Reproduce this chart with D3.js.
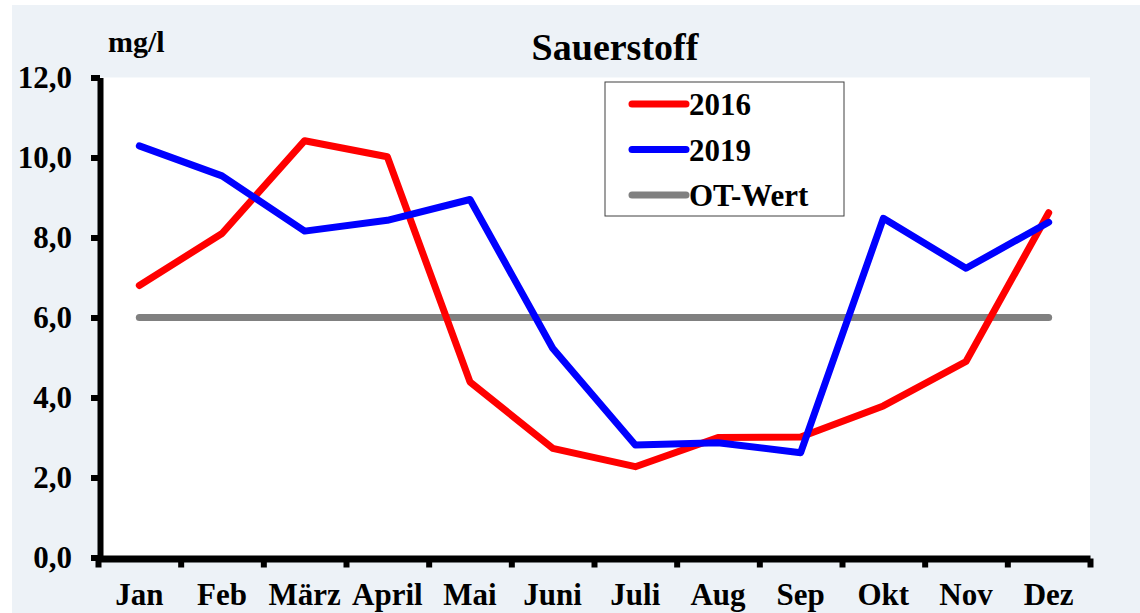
<!DOCTYPE html>
<html>
<head>
<meta charset="utf-8">
<script src="https://cdn.jsdelivr.net/npm/d3@7"></script>
<style>
  body { margin: 0; background: #ffffff; }
  svg text { font-family: "Liberation Serif", "Times New Roman", serif; font-weight: bold; fill: #000; }
</style>
</head>
<body>
<div id="chart"></div>
<script>
// data
var months = ["Jan", "Feb", "März", "April", "Mai", "Juni", "Juli", "Aug", "Sep", "Okt", "Nov", "Dez"];
var values2016 = [6.8, 8.1, 10.42, 10.02, 4.39, 2.73, 2.27, 3.0, 3.01, 3.79, 4.9, 8.62];
var values2019 = [10.29, 9.54, 8.16, 8.43, 8.95, 5.23, 2.81, 2.87, 2.62, 8.48, 7.23, 8.38];
var otWert = [6, 6, 6, 6, 6, 6, 6, 6, 6, 6, 6, 6];
var yTicks = [0, 2, 4, 6, 8, 10, 12];

var series = [
    {name: "2016", values: values2016, color: "#ff0000"},
    {name: "2019", values: values2019, color: "#0000ff"},
    {name: "OT-Wert", values: otWert, color: "#808080"}
];

var width = 1140, height = 613;
var plotLeft = 98, plotRight = 1090, plotTop = 77.5, plotBottom = 557.5;

var svg = d3.select("#chart").append("svg")
    .attr("width", width)
    .attr("height", height);

// background panel + white plot area
svg.append("rect").attr("x", 12).attr("y", 5).attr("width", width - 12).attr("height", height - 5)
    .attr("fill", "#edf2f7");
svg.append("rect").attr("x", plotLeft).attr("y", plotTop).attr("width", plotRight - plotLeft).attr("height", plotBottom - plotTop)
    .attr("fill", "#ffffff");

var x = d3.scaleBand().domain(months).range([plotLeft, plotRight]).padding(0);
var xTick = d3.scaleLinear().domain([0, 12]).range([plotLeft, plotRight]);
var y = d3.scaleLinear().domain([0, 12]).range([plotBottom, plotTop]);

// y axis
var yAxis = svg.append("g")
    .attr("transform", "translate(" + (plotLeft + 2) + ",0)")
    .call(d3.axisLeft(y).tickValues(yTicks).tickSize(9).tickSizeOuter(0)
        .tickFormat(function(d){ return d3.format(".1f")(d).replace(".", ","); }));
yAxis.select(".domain").attr("stroke", "#000").attr("stroke-width", 6);
yAxis.selectAll(".tick line").attr("stroke", "#000").attr("stroke-width", 6);
yAxis.selectAll(".tick text")
    .attr("x", -28)
    .attr("dy", "0.32em")
    .style("font-size", "31px");

// x axis tick marks (between months)
var xAxis = svg.append("g")
    .attr("transform", "translate(0," + (plotBottom + 1) + ")")
    .call(d3.axisBottom(xTick).tickValues(d3.range(13)).tickSize(9).tickSizeOuter(0).tickFormat(""));
xAxis.select(".domain").attr("stroke", "#000").attr("stroke-width", 7);
xAxis.selectAll(".tick line").attr("stroke", "#000").attr("stroke-width", 6);

// month labels
var xLabels = svg.append("g")
    .attr("transform", "translate(0," + plotBottom + ")")
    .call(d3.axisBottom(x).tickSize(0));
xLabels.select(".domain").remove();
xLabels.selectAll(".tick text")
    .attr("y", 47)
    .attr("dy", 0)
    .style("font-size", "31px");

// lines
var line = d3.line()
    .x(function(d, i){ return x(months[i]) + x.bandwidth() / 2; })
    .y(function(d){ return y(d); });

// gray first, then red, blue on top
[series[2], series[0], series[1]].forEach(function(s){
    svg.append("path")
        .datum(s.values)
        .attr("d", line)
        .attr("fill", "none")
        .attr("stroke", s.color)
        .attr("stroke-width", 7)
        .attr("stroke-linejoin", "round")
        .attr("stroke-linecap", "round");
});

// title + unit
svg.append("text").attr("x", 615).attr("y", 60).attr("text-anchor", "middle")
    .style("font-size", "38px").text("Sauerstoff");
svg.append("text").attr("x", 108).attr("y", 52)
    .style("font-size", "30px").text("mg/l");

// legend
var legend = svg.append("g");
legend.append("rect").attr("x", 605).attr("y", 82).attr("width", 239).attr("height", 134)
    .attr("fill", "#ffffff").attr("stroke", "#404040").attr("stroke-width", 1);
series.forEach(function(s, i){
    var ly = 104 + i * 45.5;
    legend.append("line").attr("x1", 632).attr("x2", 686).attr("y1", ly).attr("y2", ly)
        .attr("stroke", s.color).attr("stroke-width", 7).attr("stroke-linecap", "round");
    legend.append("text").attr("x", 689).attr("y", ly + 11)
        .style("font-size", "31px").text(s.name);
});
</script>
</body>
</html>
